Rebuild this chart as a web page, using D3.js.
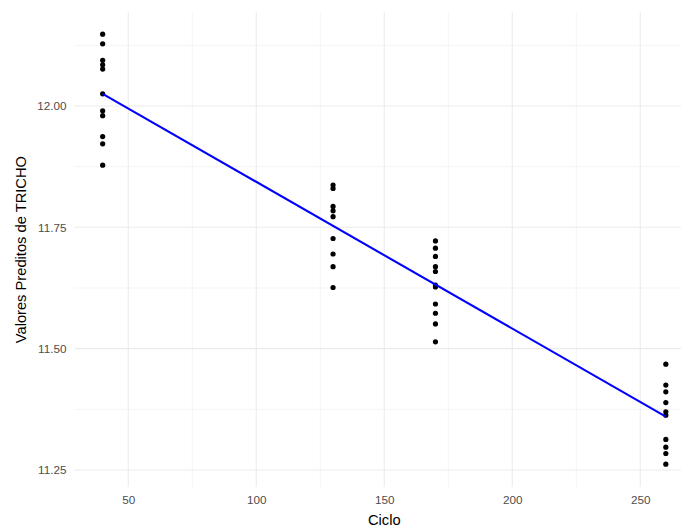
<!DOCTYPE html>
<html>
<head>
<meta charset="utf-8">
<script src="https://cdn.jsdelivr.net/npm/d3@7"></script>
<style>
  body { margin: 0; background: #fff; }
  svg { display: block; font-family: "Liberation Sans", Arial, sans-serif; }
</style>
</head>
<body>
<figure id="chart" style="margin:0"></figure>
<script>
// observed points per cycle
const ciclos = [40, 130, 170, 260];
const valores40 = [12.148, 12.128, 12.094, 12.085, 12.076, 12.025, 11.990, 11.980, 11.937, 11.922, 11.878];
const valores130 = [11.837, 11.830, 11.793, 11.784, 11.772, 11.727, 11.695, 11.669, 11.626];
const valores170 = [11.722, 11.707, 11.690, 11.669, 11.659, 11.631, 11.627, 11.592, 11.573, 11.551, 11.514];
const valores260 = [11.468, 11.425, 11.411, 11.389, 11.370, 11.363, 11.313, 11.297, 11.284, 11.262];

// fitted line
const linhaCiclo = [40, 260];
const linhaPred = [12.025, 11.360];

const xTicks = [50, 100, 150, 200, 250];
const xMinor = [75, 125, 175, 225, 275];
const yTicks = [11.25, 11.50, 11.75, 12.00];
const yMinor = [11.375, 11.625, 11.875, 12.125];

const width = 681, height = 527;
const pLeft = 74.5, pRight = 694, pTop = 12.6, pBottom = 486.7;

const points = [valores40, valores130, valores170, valores260]
  .flatMap((vals, i) => vals.map(v => ({ ciclo: ciclos[i], valor: v })));

const svg = d3.select("#chart").append("svg")
  .attr("width", width)
  .attr("height", height);

const x = d3.scaleLinear().domain([29, 271]).range([pLeft, pRight]);
const y = d3.scaleLinear().domain([11.2156, 12.1924]).range([pBottom, pTop]);

// grid
const grid = svg.append("g");
grid.selectAll(".ymin").data(yMinor).enter().append("line")
  .attr("x1", pLeft).attr("x2", pRight)
  .attr("y1", d => y(d)).attr("y2", d => y(d))
  .attr("stroke", "#ebebeb").attr("stroke-width", 0.55);
grid.selectAll(".xmin").data(xMinor).enter().append("line")
  .attr("y1", pTop).attr("y2", pBottom)
  .attr("x1", d => x(d)).attr("x2", d => x(d))
  .attr("stroke", "#ebebeb").attr("stroke-width", 0.55);
grid.selectAll(".ymaj").data(yTicks).enter().append("line")
  .attr("x1", pLeft).attr("x2", pRight)
  .attr("y1", d => y(d)).attr("y2", d => y(d))
  .attr("stroke", "#ebebeb").attr("stroke-width", 1.1);
grid.selectAll(".xmaj").data(xTicks).enter().append("line")
  .attr("y1", pTop).attr("y2", pBottom)
  .attr("x1", d => x(d)).attr("x2", d => x(d))
  .attr("stroke", "#ebebeb").attr("stroke-width", 1.1);

// axes (labels only)
const xAxis = svg.append("g")
  .attr("transform", "translate(0," + pBottom + ")")
  .call(d3.axisBottom(x).tickValues(xTicks).tickSize(0).tickPadding(9.5));
xAxis.select(".domain").remove();
xAxis.selectAll("text").attr("fill", "#4d4d4d").style("font-size", "11.7px");

const yAxis = svg.append("g")
  .attr("transform", "translate(" + pLeft + ",0)")
  .call(d3.axisLeft(y).tickValues(yTicks).tickSize(0).tickPadding(8).tickFormat(d3.format(".2f")));
yAxis.select(".domain").remove();
yAxis.selectAll("text").attr("fill", "#4d4d4d").style("font-size", "11.7px");

// points
svg.append("g").selectAll("circle")
  .data(points).enter().append("circle")
  .attr("cx", d => x(d.ciclo))
  .attr("cy", d => y(d.valor))
  .attr("r", 2.6)
  .attr("fill", "#000");

// fitted line
const line = d3.line().x(d => x(d[0])).y(d => y(d[1]));
svg.append("path")
  .datum(d3.zip(linhaCiclo, linhaPred))
  .attr("d", line)
  .attr("fill", "none")
  .attr("stroke", "#0000ff")
  .attr("stroke-width", 2.1);

// titles
svg.append("text")
  .attr("x", (pLeft + pRight) / 2)
  .attr("y", 525)
  .attr("text-anchor", "middle")
  .style("font-size", "14.7px")
  .text("Ciclo");

svg.append("text")
  .attr("transform", "translate(26," + ((pTop + pBottom) / 2) + ")rotate(-90)")
  .attr("text-anchor", "middle")
  .style("font-size", "14.7px")
  .text("Valores Preditos de TRICHO");
</script>
</body>
</html>
